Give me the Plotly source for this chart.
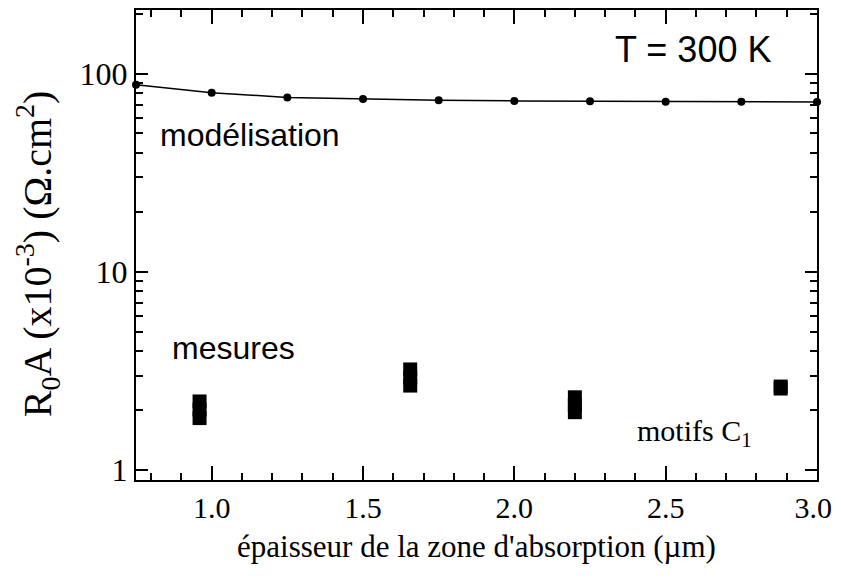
import plotly.graph_objects as go

# modélisation (courbe avec points)
model_x = [0.75, 1.0, 1.25, 1.5, 1.75, 2.0, 2.25, 2.5, 2.75, 3.0]
model_y = [88, 80.3, 76, 74.6, 73.6, 73.0, 72.6, 72.3, 72.2, 72.0]

# mesures (motifs C1) - chaque barre = plusieurs mesures superposées
meas_x = [0.96, 0.96, 0.96, 1.656, 1.656, 1.656, 2.20, 2.20, 2.20, 2.88, 2.88]
meas_y = [2.22, 2.02, 1.83, 3.22, 2.93, 2.67, 2.33, 2.13, 1.96, 2.64, 2.58]

y_major = [1, 10, 100]
y_minor = [2, 3, 4, 5, 6, 7, 8, 9, 20, 30, 40, 50, 60, 70, 80, 90, 200]
x_major = [1.0, 1.5, 2.0, 2.5, 3.0]
x_labels = ["1.0", "1.5", "2.0", "2.5", "3.0\u00a0"]  # nbsp keeps the last label on screen
x_minor = [0.8, 0.9, 1.1, 1.2, 1.3, 1.4, 1.6, 1.7, 1.8, 1.9,
           2.1, 2.2, 2.3, 2.4, 2.6, 2.7, 2.8, 2.9]

serif = "Liberation Serif"
sans = "Liberation Sans"

fig = go.Figure()
fig.add_trace(go.Scatter(
    x=model_x, y=model_y, mode="lines+markers",
    line=dict(color="black", width=1.5),
    marker=dict(symbol="circle", size=8, color="black"),
    cliponaxis=False, showlegend=False,
))
fig.add_trace(go.Scatter(
    x=meas_x, y=meas_y, mode="markers",
    marker=dict(symbol="square", size=14, color="black", line=dict(width=0)),
    showlegend=False,
))

axis_common = dict(
    showline=True, linecolor="black", linewidth=2, mirror="ticks",
    ticks="inside", tickcolor="black", tickwidth=1.5,
    showgrid=False, zeroline=False,
)

fig.update_xaxes(
    range=[0.75, 3.0], tickvals=x_major, ticktext=x_labels, ticklen=14,
    tickfont=dict(family=serif, size=30, color="black"),
    minor=dict(ticks="inside", ticklen=7, tickcolor="black", tickwidth=1.5,
               tickvals=x_minor),
    title=dict(text="épaisseur de la zone d'absorption (µm)",
               font=dict(family=serif, size=31, color="black"), standoff=12),
    **axis_common,
)
fig.update_yaxes(
    type="log", range=[-0.05, 2.322], tickvals=y_major,
    ticktext=["1", "10", "100"], ticklen=12,
    tickfont=dict(family=serif, size=32, color="black"),
    minor=dict(ticks="inside", ticklen=7, tickcolor="black", tickwidth=1.5,
               tickvals=y_minor),
    **axis_common,
)

# y title as annotation (sits a bit below the axis centre in the original)
fig.add_annotation(x=-0.145, y=0.481, xref="paper", yref="paper",
                   text="R<sub>0</sub>A (x10<sup>-3</sup>) (Ω.cm<sup>2</sup>)",
                   textangle=-90, showarrow=False,
                   font=dict(family=serif, size=40, color="black"),
                   xanchor="center", yanchor="middle")

fig.add_annotation(x=0.700, y=0.915, xref="paper", yref="paper", text="T = 300 K",
                   showarrow=False, font=dict(family=sans, size=36, color="black"),
                   xanchor="left", yanchor="middle")
fig.add_annotation(x=0.032, y=0.735, xref="paper", yref="paper", text="modélisation",
                   showarrow=False, font=dict(family=sans, size=32, color="black"),
                   xanchor="left", yanchor="middle")
fig.add_annotation(x=0.050, y=0.280, xref="paper", yref="paper", text="mesures",
                   showarrow=False, font=dict(family=sans, size=32, color="black"),
                   xanchor="left", yanchor="middle")
fig.add_annotation(x=0.733, y=0.10, xref="paper", yref="paper",
                   text="motifs C<sub>1</sub>",
                   showarrow=False, font=dict(family=serif, size=30, color="black"),
                   xanchor="left", yanchor="middle")

# the page body has an 8 px margin: the figure starts at (8, 8) in the window,
# so it may run to the right window edge but must stay 565 px tall
fig.update_layout(
    width=833, height=565,
    margin=dict(l=128, r=24, t=0, b=93),
    paper_bgcolor="white", plot_bgcolor="white",
)

fig.write_html("out.html")
